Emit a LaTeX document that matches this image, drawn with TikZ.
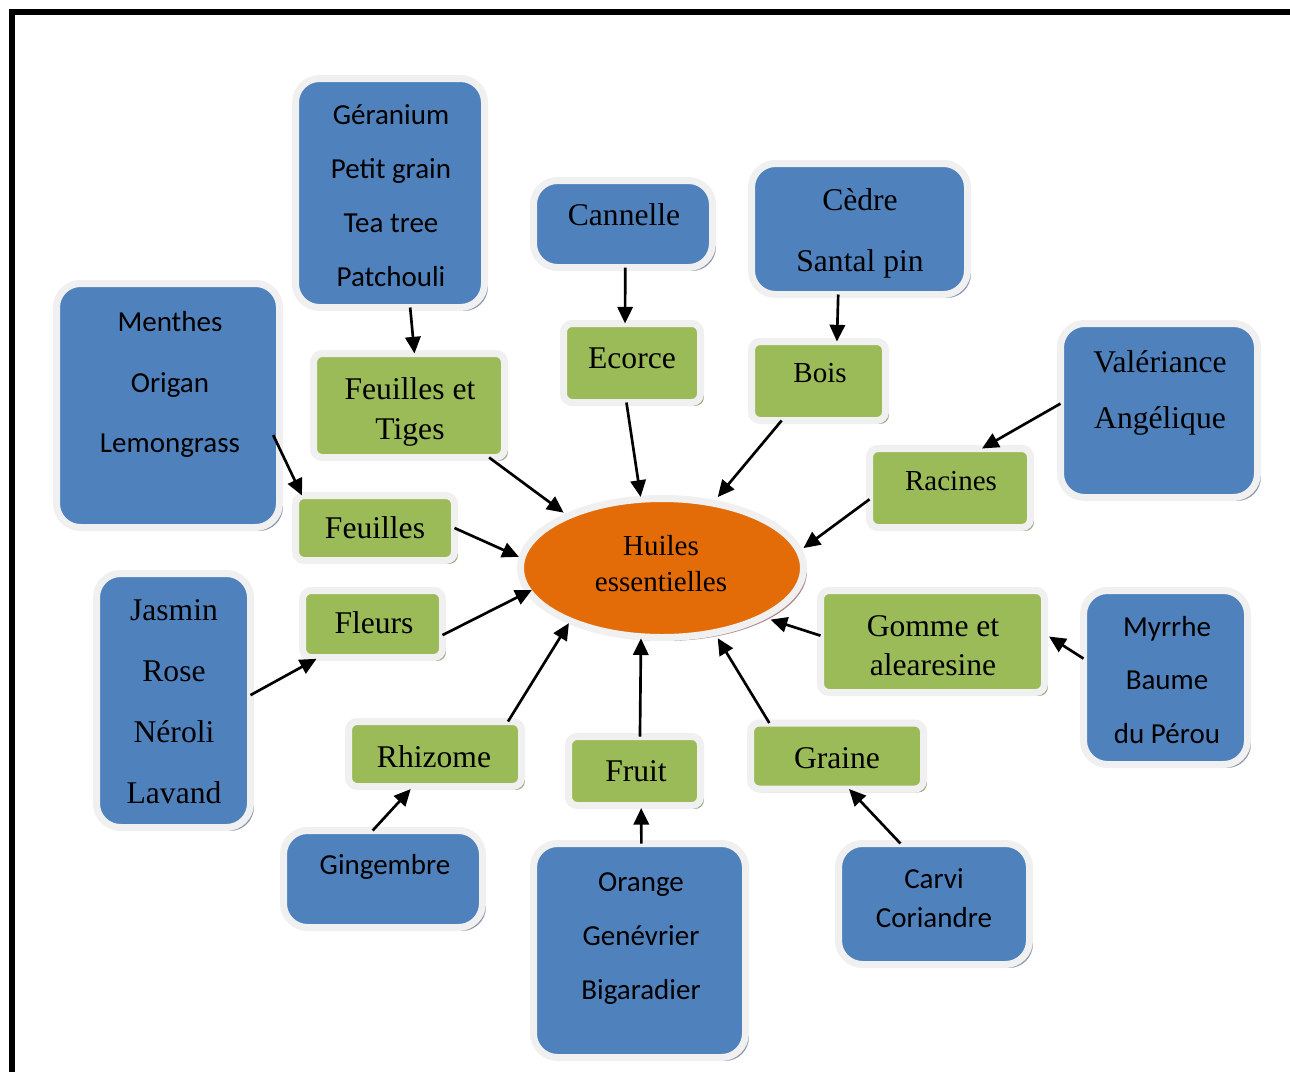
\documentclass[tikz,border=0pt]{standalone}
\usepackage{fontspec}
\setmainfont{Liberation Serif}
\newfontfamily\calib{Carlito}
\usetikzlibrary{shadows,arrows.meta,shapes.geometric}
\definecolor{bxblue}{HTML}{4F81BD}
\definecolor{bxgreen}{HTML}{9BBB59}
\definecolor{ellorange}{HTML}{E36C09}
\definecolor{rimgray}{HTML}{F0F0F0}
\definecolor{shblue}{HTML}{8C99AD}
\definecolor{shgreen}{HTML}{A0AD8A}
\definecolor{shrose}{HTML}{B08888}
\begin{document}
\begin{tikzpicture}[x=0.75pt,y=-0.75pt,
  box/.style={rectangle, draw=rimgray, line width=5.25pt, outer sep=0pt, inner sep=0pt},
  bluebox/.style={box, fill=bxblue, rounded corners=18pt,
    drop shadow={shadow xshift=2.6pt, shadow yshift=-2.6pt, fill=shblue, opacity=1}},
  greenbox/.style={box, fill=bxgreen, rounded corners=6.5pt,
    drop shadow={shadow xshift=2.6pt, shadow yshift=-2.6pt, fill=shgreen, opacity=1}},
  cal/.style={font=\calib\fontsize{21.75pt}{#1}\selectfont, align=center, inner sep=0pt},
  cal/.default=26pt,
  tim/.style={font=\fontsize{23.7pt}{#1}\selectfont, align=center, inner sep=0pt},
  tim/.default=28pt,
  tims/.style={font=\fontsize{21.75pt}{#1}\selectfont, align=center, inner sep=0pt},
  tims/.default=27pt,
  arr/.style={-{Triangle[length=12.5pt,width=11.5pt]}, line width=2pt, black}]
\useasboundingbox (0,0) rectangle (1290,1072);
\fill[white] (0,0) rectangle (1290,1072);
% frame
\draw[line width=4.5pt, line join=miter] (11.5,1072) -- (11.5,12) -- (1290,12);

% ellipse
\node[ellipse, draw=rimgray, fill=ellorange, line width=5.25pt, outer sep=0pt, inner sep=0pt,
  minimum width=212.25pt, minimum height=104.25pt,
  drop shadow={shadow xshift=2.6pt, shadow yshift=-2.6pt, fill=shrose, opacity=1}] (ell) at (662,568) {};
\node[tims=27pt] (t-ell) at (661,564) {Huiles\\essentielles};

% blue boxes
\node[bluebox, minimum width=141.75pt, minimum height=171.75pt] (geran) at (390,193) {};
\node[bluebox, minimum width=134.25pt, minimum height=65.25pt] (cannelle) at (623,224) {};
\node[bluebox, minimum width=162pt, minimum height=98.25pt] (cedre) at (859.5,229) {};
\node[bluebox, minimum width=167.25pt, minimum height=183pt] (menthes) at (168,405.5) {};
\node[bluebox, minimum width=147.75pt, minimum height=130.5pt] (valer) at (1159,410.5) {};
\node[bluebox, minimum width=115.5pt, minimum height=190.5pt] (jasmin) at (173.5,700.5) {};
\node[bluebox, minimum width=123pt, minimum height=130.5pt] (myrrhe) at (1165.5,677.5) {};
\node[bluebox, minimum width=149.25pt, minimum height=72.75pt] (ginge) at (383,879) {};
\node[bluebox, minimum width=159pt, minimum height=160.5pt] (orange) at (639.5,950.5) {};
\node[bluebox, minimum width=143.25pt, minimum height=90.75pt] (carvi) at (934,904) {};

% green boxes
\node[greenbox, minimum width=143.25pt, minimum height=78pt] (fet) at (409,405.5) {};
\node[greenbox, minimum width=102.75pt, minimum height=59.25pt] (ecorce) at (632,363) {};
\node[greenbox, minimum width=100.5pt, minimum height=59.25pt] (bois) at (818.5,381) {};
\node[greenbox, minimum width=120.75pt, minimum height=59.25pt] (racines) at (950,488) {};
\node[greenbox, minimum width=119.25pt, minimum height=48.75pt] (feuilles) at (375,528) {};
\node[greenbox, minimum width=105pt, minimum height=50.25pt] (fleurs) at (372.5,624) {};
\node[greenbox, minimum width=168pt, minimum height=76.5pt] (gomme) at (932.5,641.5) {};
\node[greenbox, minimum width=129.75pt, minimum height=48.75pt] (rhizome) at (435,754) {};
\node[greenbox, minimum width=99pt, minimum height=51.75pt] (fruit) at (634.5,771) {};
\node[greenbox, minimum width=129.75pt, minimum height=49.5pt] (graine) at (837,756) {};

% texts
\node[cal=40.5pt] (t-geran) at (391,196) {Géranium\\Petit grain\\Tea tree\\Patchouli};
\node[tim] (t-cannelle) at (624,215) {Cannelle};
\node[tim=45.75pt] (t-cedre) at (860,233.5) {Cèdre\\Santal pin};
\node[cal=45.4pt] (t-menthes) at (170,384.5) {Menthes\\Origan\\Lemongrass};
\node[tim=42pt] (t-valer) at (1160,393) {Valériance\\Angélique};
\node[tim=45.75pt] (t-jasmin) at (174,701.5) {Jasmin\\Rose\\Néroli\\Lavand};
\node[cal=40.1pt] (t-myrrhe) at (1167,680) {Myrrhe\\Baume\\du Pérou};
\node[cal] (t-ginge) at (385,867) {Gingembre};
\node[cal=40.5pt] (t-orange) at (641,939) {Orange\\Genévrier\\Bigaradier};
\node[cal=29.25pt] (t-carvi) at (934,898.5) {Carvi\\Coriandre};
\node[tim=30pt] (t-fet) at (410,411.5) {Feuilles et\\Tiges};
\node[tim] (t-ecorce) at (632,358) {Ecorce};
\node[tims] (t-bois) at (820,373) {Bois};
\node[tims] (t-racines) at (951,481) {Racines};
\node[tim] (t-feuilles) at (375,528) {Feuilles};
\node[tim] (t-fleurs) at (374,623) {Fleurs};
\node[tim=29.25pt] (t-gomme) at (933,645.5) {Gomme et\\alearesine};
\node[tim] (t-rhizome) at (434,757) {Rhizome};
\node[tim] (t-fruit) at (636,771) {Fruit};
\node[tim] (t-graine) at (837,758) {Graine};

% arrows: sources to categories
\draw[arr] (geran.-80) -- (fet.84);
\draw[arr] (cannelle.-87) -- (ecorce.100);
\draw[arr] (cedre.-108.6) -- (bois.65.7);
\draw[arr] (valer.176.8) -- (racines.51.2);
\draw[arr, shorten <=-11pt] (menthes.-21) -- (feuilles.156);
\draw[arr, shorten >=4pt] (myrrhe.167.7) -- (gomme.4);
\draw[arr, shorten >=2.6pt] (ginge.102.8) -- (rhizome.-124.6);
\draw[arr, shorten >=1.9pt] (orange.89.2) -- (fruit.-79.3);
\draw[arr] (carvi.119.3) -- (graine.-70.5);
\draw[arr, shorten >=2pt] (jasmin.4.5) -- (fleurs.-148.7);
% arrows: categories to centre
\draw[arr, shorten >=4.2pt] (fet.-33.8) -- (ell.151.7);
\draw[arr, shorten >=1.8pt] (ecorce.-98) -- (ell.107.2);
\draw[arr, shorten >=5.9pt] (bois.-133.2) -- (ell.52.5);
\draw[arr, shorten >=3.9pt] (racines.-172.9) -- (ell.7.9);
\draw[arr, shorten >=2.5pt] (feuilles.east) -- (ell.176.5);
\draw[arr, shorten >=-2.6pt] (fleurs.-9.7) -- (ell.-170.4);
\draw[arr, shorten >=6.4pt] (gomme.177.5) -- (ell.-26.8);
\draw[arr, shorten >=2pt] (rhizome.24.3) -- (ell.-150.6);
\draw[arr, shorten >=1.2pt] (fruit.81) -- (ell.-107.4);
\draw[arr, shorten >=4.9pt] (graine.154.7) -- (ell.-51.8);
\end{tikzpicture}
\end{document}
